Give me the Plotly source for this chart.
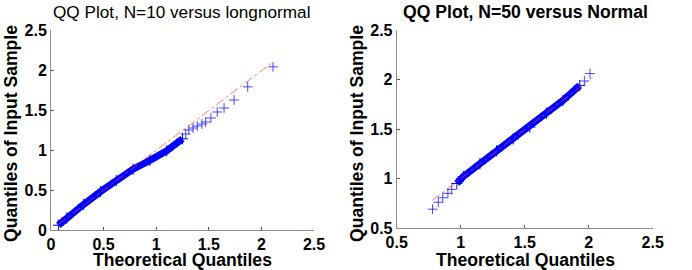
import plotly.graph_objects as go

# ---- Left panel: N=10 versus lognormal ----
left_title = "QQ Plot, N=10 versus longnormal"
left_dense_x = [0.07, 0.15, 0.31, 0.47, 0.62, 0.78, 0.94, 1.10, 1.25]
left_dense_y = [0.06, 0.15, 0.32, 0.48, 0.62, 0.76, 0.87, 0.99, 1.14]
left_sparse_x = [1.28, 1.31, 1.35, 1.39, 1.435, 1.47, 1.52, 1.58, 1.645, 1.74, 1.87, 2.11]
left_sparse_y = [1.20, 1.25, 1.275, 1.30, 1.325, 1.35, 1.40, 1.475, 1.525, 1.625, 1.79, 2.04]
left_ref_x = [0.07, 2.10]
left_ref_y = [0.07, 2.09]

# ---- Right panel: N=50 versus Normal ----
right_title = "QQ Plot, N=50 versus Normal"
right_dense_x = [0.97, 1.02, 1.15, 1.28, 1.41, 1.54, 1.67, 1.80, 1.93]
right_dense_y = [0.95, 1.02, 1.15, 1.28, 1.40, 1.52, 1.66, 1.79, 1.94]
right_sparse_x = [0.78, 0.825, 0.86, 0.90, 0.93, 1.966, 2.01]
right_sparse_y = [0.69, 0.76, 0.806, 0.85, 0.89, 1.985, 2.06]
right_ref_x = [0.78, 2.03]
right_ref_y = [0.78, 2.02]

x_label = "Theoretical Quantiles"
y_label = "Quantiles of Input Sample"
left_ticks = [0, 0.5, 1, 1.5, 2, 2.5]
left_tick_text = ["0", "0.5", "1", "1.5", "2", "2.5"]
right_ticks = [0.5, 1, 1.5, 2, 2.5]
right_tick_text = ["0.5", "1", "1.5", "2", "2.5"]

FONT = "Liberation Sans, Arial, Helvetica, sans-serif"
BLUE = "rgb(0,0,255)"

W, H = 692, 270

def fx(p):
    return p / W

def fy(p):
    return 1 - p / H

fig = go.Figure()

def add_panel(xa, ya, dx, dy, sx, sy, rx, ry):
    fig.add_trace(go.Scatter(x=dx, y=dy, mode="lines+markers", xaxis=xa, yaxis=ya,
                             line=dict(color=BLUE, width=7),
                             marker=dict(symbol="cross-thin", size=8,
                                         line=dict(color=BLUE, width=1)),
                             showlegend=False, hoverinfo="skip"))
    fig.add_trace(go.Scatter(x=sx, y=sy, mode="markers", xaxis=xa, yaxis=ya,
                             marker=dict(symbol="cross-thin", size=7,
                                         line=dict(color="rgba(40,40,255,0.85)", width=1)),
                             showlegend=False, hoverinfo="skip"))
    fig.add_trace(go.Scatter(x=rx, y=ry, mode="lines", xaxis=xa, yaxis=ya,
                             line=dict(color="rgba(255,60,60,0.7)", width=1, dash="dashdot"),
                             showlegend=False, hoverinfo="skip"))

add_panel("x", "y", left_dense_x, left_dense_y, left_sparse_x, left_sparse_y, left_ref_x, left_ref_y)
add_panel("x2", "y2", right_dense_x, right_dense_y, right_sparse_x, right_sparse_y, right_ref_x, right_ref_y)

axis_common = dict(showline=True, linecolor="#8c8c8c", linewidth=1, ticks="inside",
                   ticklen=3, tickcolor="#555555", showgrid=False, zeroline=False,
                   automargin=False,
                   tickfont=dict(family=FONT, size=16, color="black", weight="bold"),
                   mirror=False)

fig.update_layout(
    width=W, height=H,
    margin=dict(l=0, r=0, t=0, b=0, autoexpand=False),
    paper_bgcolor="white", plot_bgcolor="white",
    xaxis=dict(domain=[fx(51), fx(314)], range=[0, 2.5], tickvals=left_ticks,
               ticktext=left_tick_text, anchor="y", **axis_common),
    yaxis=dict(domain=[fy(230), fy(30)], range=[0, 2.5], tickvals=left_ticks,
               ticktext=left_tick_text, anchor="x", **axis_common),
    xaxis2=dict(domain=[fx(396.7), fx(652.7)], range=[0.5, 2.5], tickvals=right_ticks,
                ticktext=right_tick_text, anchor="y2", **axis_common),
    yaxis2=dict(domain=[fy(228), fy(30)], range=[0.5, 2.5], tickvals=right_ticks,
                ticktext=right_tick_text, anchor="x2", **axis_common),
)

ann_font = dict(family=FONT, size=17.2, color="black")
bold_font = dict(family=FONT, size=17.6, color="black", weight="bold")
anns = [
    dict(text=left_title, x=fx(181), y=fy(12), font=ann_font),
    dict(text=right_title, x=fx(525), y=fy(12), font=bold_font),
    dict(text=x_label, x=fx(182.5), y=fy(259.5), font=bold_font),
    dict(text=x_label, x=fx(525), y=fy(259.5), font=bold_font),
    dict(text=y_label, x=fx(11), y=fy(134), font=bold_font, textangle=-90),
    dict(text=y_label, x=fx(357), y=fy(134), font=bold_font, textangle=-90),
]
for a in anns:
    fig.add_annotation(xref="paper", yref="paper", showarrow=False,
                       xanchor="center", yanchor="middle", **a)

fig.write_html("out.html", config={"displayModeBar": False},
               post_script="document.body.style.margin='0';document.body.style.overflow='hidden';")
